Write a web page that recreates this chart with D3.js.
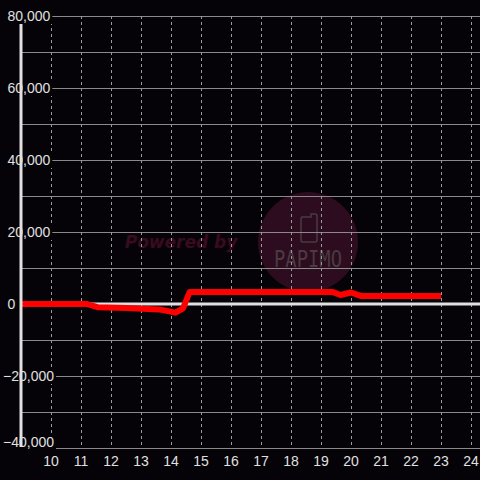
<!DOCTYPE html>
<html>
<head>
<meta charset="utf-8">
<script src="https://cdn.jsdelivr.net/npm/d3@7"></script>
<style>
  html, body { margin: 0; padding: 0; background: #050307; }
  svg { display: block; }
</style>
</head>
<body>
<svg id="chart" width="480" height="480"></svg>
<script>
// hours of the day and the running balance
const hours = [8.97, 11.2, 11.55, 12.5, 13.6, 14.15, 14.4, 14.62, 19.4, 19.65, 20.0, 20.35, 23.0];
const balance = [0, 0, -900, -1100, -1500, -2400, -1200, 3300, 3300, 2500, 3200, 2200, 2200];
const yTicks = [-40000, -30000, -20000, -10000, 0, 10000, 20000, 30000, 40000, 50000, 60000, 70000, 80000];
const yLabels = [-40000, -20000, 0, 20000, 40000, 60000, 80000];
const xTicks = [10, 11, 12, 13, 14, 15, 16, 17, 18, 19, 20, 21, 22, 23, 24];

const svg = d3.select('#chart');
const W = 480, H = 480;
const plotLeft = 21, plotTop = 16, plotBottom = 448;

const x = d3.scaleLinear().domain([9, 24.3]).range([plotLeft, W]);
const y = d3.scaleLinear().domain([-40000, 80000]).range([plotBottom, plotTop]);

svg.append('rect').attr('width', W).attr('height', H).attr('fill', '#050307');

// watermark (sits under the grid)
const wm = svg.append('g');
wm.append('circle').attr('cx', 308).attr('cy', 242).attr('r', 50).attr('fill', '#2c0c1e');
wm.append('text')
  .attr('x', 181).attr('y', 248)
  .attr('text-anchor', 'middle')
  .attr('font-family', 'DejaVu Sans, sans-serif')
  .attr('font-weight', 'bold').attr('font-style', 'italic')
  .attr('font-size', 17)
  .attr('fill', '#3a0a1e')
  .text('Powered by');
wm.append('path')
  .attr('d', 'M301,217 h10 v-3 h4 q2,0 2,2 v24 q0,2 -2,2 h-12 q-2,0 -2,-2 v-21 q0,-2 2,-2')
  .attr('fill', 'none').attr('stroke', '#4a3a42').attr('stroke-width', 1.5);
wm.append('text')
  .attr('x', 308).attr('y', 267)
  .attr('text-anchor', 'middle')
  .attr('font-family', 'DejaVu Sans Mono, monospace')
  .attr('font-size', 23)
  .attr('textLength', 68).attr('lengthAdjust', 'spacingAndGlyphs')
  .attr('fill', '#4a3a42')
  .text('PAPIMO');

// horizontal grid
svg.append('g')
  .selectAll('line')
  .data(yTicks)
  .join('line')
  .attr('x1', plotLeft).attr('x2', W)
  .attr('y1', (d) => y(d) + 0.5).attr('y2', (d) => y(d) + 0.5)
  .attr('stroke', '#8a8a8a').attr('stroke-width', 1);

// vertical dashed grid
svg.append('g')
  .selectAll('line')
  .data(xTicks)
  .join('line')
  .attr('x1', (d) => x(d) + 0.5).attr('x2', (d) => x(d) + 0.5)
  .attr('y1', plotTop).attr('y2', plotBottom)
  .attr('stroke', '#9a9a9a').attr('stroke-width', 1)
  .attr('stroke-dasharray', '3,3');

// zero line
svg.append('line')
  .attr('x1', plotLeft).attr('x2', W)
  .attr('y1', y(0)).attr('y2', y(0))
  .attr('stroke', '#e0e0e0').attr('stroke-width', 3);

// y labels with dark background, anchored at the left edge
const fmt = d3.format(',');
const yl = svg.append('g')
  .selectAll('g')
  .data(yLabels)
  .join('g')
  .attr('transform', (d) => `translate(${d < 0 ? 3 : 7.5},${Math.min(y(d), plotBottom - 6)})`);
const ylText = yl.append('text')
  .attr('dy', '0.35em')
  .attr('font-family', 'Liberation Sans, Arial, sans-serif')
  .attr('font-size', 14)
  .attr('fill', '#e0e0e0')
  .text((d) => fmt(d));
yl.insert('rect', 'text')
  .attr('x', -1)
  .attr('y', -8)
  .attr('width', function () { return this.parentNode.querySelector('text').getComputedTextLength() + 3; })
  .attr('height', 16)
  .attr('fill', '#050307');

// balance line
const line = d3.line().x((d) => x(d[0])).y((d) => y(d[1]));
svg.append('path')
  .datum(hours.map((h, i) => [h, balance[i]]))
  .attr('d', line)
  .attr('fill', 'none')
  .attr('stroke', '#ff0000')
  .attr('stroke-width', 6)
  .attr('stroke-linejoin', 'round');

// y axis line, broken where the labels sit
svg.append('line')
  .attr('x1', plotLeft).attr('x2', plotLeft)
  .attr('y1', plotTop + 8).attr('y2', plotBottom - 1)
  .attr('stroke', '#e0e0e0').attr('stroke-width', 3);
yl.filter((d) => d !== 0).raise();

// x labels
svg.append('g')
  .selectAll('text')
  .data(xTicks)
  .join('text')
  .attr('x', (d) => x(d))
  .attr('y', 466)
  .attr('text-anchor', 'middle')
  .attr('font-family', 'Liberation Sans, Arial, sans-serif')
  .attr('font-size', 14)
  .attr('fill', '#e0e0e0')
  .text((d) => d);
</script>
</body>
</html>
